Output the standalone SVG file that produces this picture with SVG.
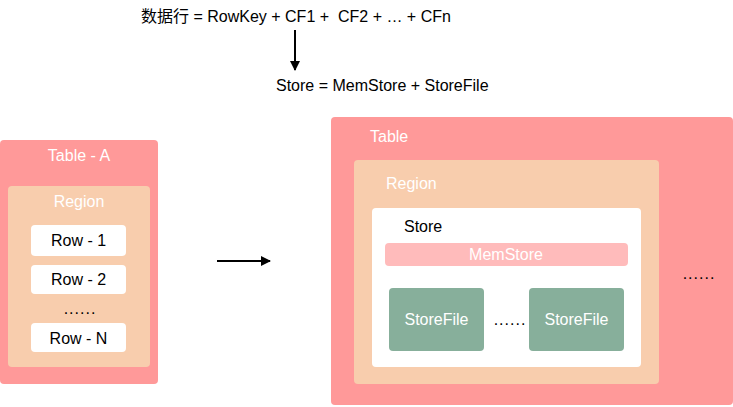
<svg xmlns="http://www.w3.org/2000/svg" width="733" height="407" viewBox="0 0 733 407">
<defs>
<style>
text{font-family:"Liberation Sans",Arial,"Noto Sans CJK SC",sans-serif;font-size:16px;white-space:pre;}
.tbl{fill:#FF9999;}
.reg{fill:#F8CDAD;}
.wht{fill:#FFFFFF;}
.mem{fill:#FFBBBB;}
.sf{fill:#87AF9B;}
.lt{fill:#FFFFFF;}
.dk{fill:#000000;}
.c{text-anchor:middle;}
.dots{letter-spacing:1px;}
.ln{stroke:#000;stroke-width:2;fill:none;}
</style>
<marker id="ah" markerWidth="10" markerHeight="10" refX="9" refY="5" orient="auto" markerUnits="userSpaceOnUse">
<path d="M0,0 L10,5 L0,10 Z" fill="#000"/>
</marker>
</defs>
<g id="formula1"><text x="141" y="22" class="dk" xml:space="preserve">数据行 = RowKey + CF1 +  CF2 + … + CFn</text></g>
<g id="formula2"><text x="276" y="91" class="dk">Store = MemStore + StoreFile</text></g>
<g id="tableA">
<rect x="0" y="140" width="158" height="244" rx="4" class="tbl"/>
<text x="79" y="161" class="lt c">Table - A</text>
</g>
<g id="regionA">
<rect x="8" y="186" width="142" height="181" rx="4" class="reg"/>
<text x="79" y="207" class="lt c">Region</text>
</g>
<g id="row1"><rect x="31" y="225" width="95" height="31" rx="4" class="wht"/><text x="78.5" y="246" class="dk c">Row - 1</text></g>
<g id="row2"><rect x="31" y="265" width="95" height="29" rx="4" class="wht"/><text x="78.5" y="285" class="dk c">Row - 2</text></g>
<text x="80" y="314" class="dk c dots">......</text>
<g id="rowN"><rect x="31" y="323" width="95" height="29" rx="4" class="wht"/><text x="78.5" y="344" class="dk c">Row - N</text></g>
<g id="table">
<rect x="331" y="117" width="402" height="288" rx="4" class="tbl"/>
<text x="370" y="142" class="lt">Table</text>
<text x="699" y="279" class="dk c dots">......</text>
</g>
<g id="region">
<rect x="354" y="160" width="305" height="224" rx="4" class="reg"/>
<text x="386" y="189" class="lt">Region</text>
</g>
<g id="store">
<rect x="372" y="208" width="269" height="159" rx="4" class="wht"/>
<text x="404" y="232" class="dk">Store</text>
</g>
<g id="memstore"><rect x="385" y="243" width="243" height="23" rx="4" class="mem"/><text x="506" y="260" class="lt c">MemStore</text></g>
<g id="storefile1"><rect x="389" y="288" width="95" height="63" rx="4" class="sf"/><text x="436.5" y="325" class="lt c">StoreFile</text></g>
<text x="510" y="325" class="dk c dots">......</text>
<g id="storefile2"><rect x="529" y="288" width="95" height="63" rx="4" class="sf"/><text x="576.5" y="325" class="lt c">StoreFile</text></g>
<g id="connectors">
<line x1="295" y1="30" x2="295" y2="70" class="ln" marker-end="url(#ah)"/>
<line x1="217" y1="261" x2="270" y2="261" class="ln" marker-end="url(#ah)"/>
</g>
</svg>
